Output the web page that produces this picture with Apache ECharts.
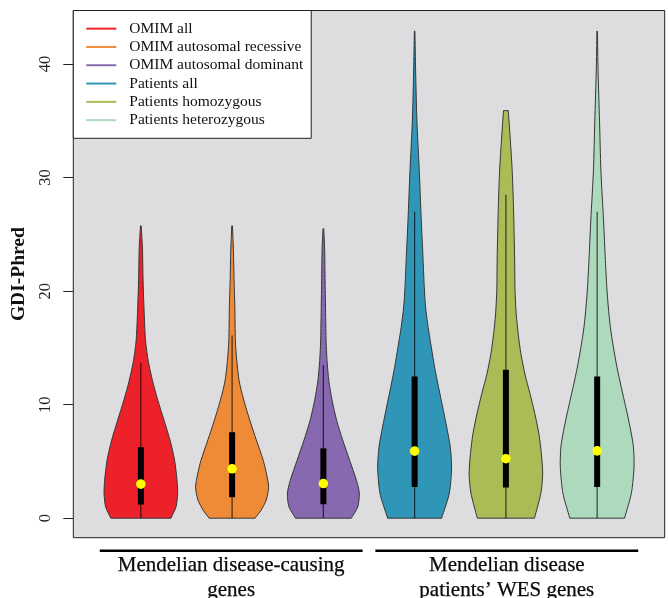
<!DOCTYPE html>
<html><head><meta charset="utf-8">
<script src="https://cdn.jsdelivr.net/npm/echarts@6/dist/echarts.min.js"></script>
<style>html,body{margin:0;padding:0;background:#fff}#c{width:668px;height:598px}</style>
</head><body><div id="c"></div>
<script>
// ---- data ----
const categories = ['OMIM all','OMIM autosomal recessive','OMIM autosomal dominant','Patients all','Patients homozygous','Patients heterozygous'];
const colors = ['#ED2129','#EF8A36','#8669AE','#2F96B8','#A9BC56','#ADD9BD'];
const xPositions = [1,2,3,4,5,6];
// violin outlines: [GDI-Phred value, half width (category units)]
const omimAll = [[0,0.33],[1,0.386],[2.2,0.403],[3.3,0.397],[5.1,0.37],[6.9,0.319],[8.6,0.255],[10.4,0.186],[12.1,0.128],[13.9,0.08],[15.6,0.052],[17.8,0.038],[20.8,0.025],[23.7,0.018],[25.75,0.004]];
const omimRecessive = [[0,0.252],[0.7,0.317],[1.6,0.374],[2.75,0.4],[3.9,0.377],[5.1,0.341],[6.9,0.265],[8.6,0.195],[10.4,0.128],[12.1,0.077],[13.9,0.051],[15.6,0.036],[18.6,0.03],[20.8,0.022],[23.7,0.014],[25.75,0.004]];
const omimDominant = [[0,0.306],[1,0.377],[2.2,0.394],[3.3,0.364],[5.1,0.288],[6.9,0.211],[8.6,0.146],[10.4,0.095],[12.1,0.06],[13.9,0.04],[15.6,0.03],[17.8,0.025],[20.8,0.019],[23.7,0.014],[25.5,0.004]];
const patientsAll = [[0,0.296],[2.2,0.38],[4.5,0.405],[6.3,0.39],[8,0.352],[9.8,0.307],[11.5,0.263],[13.3,0.219],[15.05,0.183],[16.8,0.148],[18.6,0.12],[20.3,0.106],[22.7,0.093],[26.2,0.073],[30.6,0.051],[35,0.025],[39.4,0.011],[42.9,0.003]];
const patientsHomo = [[0,0.313],[2.2,0.383],[3.9,0.403],[5.7,0.388],[7.4,0.362],[9.2,0.317],[11,0.263],[12.7,0.208],[14.5,0.164],[16.2,0.135],[18,0.113],[19.8,0.101],[20.9,0.098],[22.7,0.096],[24.7,0.091],[27.7,0.082],[30.6,0.069],[33.5,0.047],[35.9,0.026]];
const patientsHetero = [[0,0.3],[2.2,0.375],[4.5,0.404],[6.3,0.397],[8,0.361],[9.8,0.313],[11.5,0.265],[13.3,0.217],[15.05,0.178],[16.8,0.145],[18.6,0.122],[20.3,0.106],[22.7,0.09],[26.2,0.07],[30.6,0.041],[35,0.026],[39.4,0.01],[42.9,0.003]];
const whiskerLow = [0,0,0,0,0,0];
const q1 = [1.2,1.85,1.23,2.75,2.7,2.75];
const medians = [3.0,4.35,3.05,5.91,5.24,5.93];
const q3 = [6.25,7.57,6.15,12.48,13.07,12.48];
const whiskerHigh = [13.7,16.1,13.5,27.0,28.5,27.0];
const yTicks = [0,10,20,30,40];
const groupNames = ['Mendelian disease-causing\ngenes','Mendelian disease\npatients\u2019 WES genes'];
const groupSpans = [[0.55,3.43],[3.57,6.45]];

const profiles = [omimAll, omimRecessive, omimDominant, patientsAll, patientsHomo, patientsHetero];
const Y_MIN = -1.72, Y_MAX = 44.72;
const SERIF = '"Liberation Serif", "DejaVu Serif", serif';

function violinSeries(i){
  const prof = profiles[i];
  return {
    type:'custom', name:categories[i], coordinateSystem:'cartesian2d',
    itemStyle:{color:colors[i]}, z:3,
    data:[[xPositions[i], medians[i]]],
    encode:{x:0,y:1},
    renderItem:function(params, api){
      const xc = api.value(0);
      const pts = [];
      const left = prof.map(p => api.coord([xc - p[1], p[0]]));
      const right = prof.map(p => api.coord([xc + p[1], p[0]]));
      const n = left.length;
      pts.push(left[0]);
      for (let k=0;k<n;k++) pts.push(left[k]);
      pts.push(left[n-1]);
      pts.push(right[n-1]);
      for (let k=n-1;k>=0;k--) pts.push(right[k]);
      pts.push(right[0]);
      const wLo = api.coord([xc, whiskerLow[i]]);
      const wHi = api.coord([xc, whiskerHigh[i]]);
      const b1 = api.coord([xc, q1[i]]);
      const b3 = api.coord([xc, q3[i]]);
      const md = api.coord([xc, api.value(1)]);
      return {type:'group', children:[
        {type:'polygon', shape:{points:pts, smooth:0.25}, style:{fill:colors[i], stroke:'#363636', lineWidth:1}},
        {type:'line', shape:{x1:wLo[0], y1:wLo[1], x2:wHi[0], y2:wHi[1]}, style:{stroke:'rgba(0,0,0,0.7)', lineWidth:1.2}},
        {type:'rect', shape:{x:b1[0]-3, y:b3[1], width:6, height:b1[1]-b3[1]}, style:{fill:'#000'}},
        {type:'circle', shape:{cx:md[0], cy:md[1], r:4.8}, style:{fill:'#FFFF00'}}
      ]};
    }
  };
}

const series = categories.map((c,i) => violinSeries(i));
series.push({
  type:'custom', name:'groups', coordinateSystem:'cartesian2d', clip:false, silent:true,
  data:groupSpans.map((s,i) => [s[0], s[1], i]),
  encode:{x:[0,1]},
  renderItem:function(params, api){
    const a = api.coord([api.value(0), Y_MIN]);
    const b = api.coord([api.value(1), Y_MIN]);
    const idx = api.value(2);
    const ly = a[1] + 13;
    return {type:'group', children:[
      {type:'line', shape:{x1:a[0], y1:ly, x2:b[0], y2:ly}, style:{stroke:'#000', lineWidth:2.6}},
      {type:'text', style:{text:groupNames[idx], x:(a[0]+b[0])/2, y:ly+27.5, textAlign:'center', textVerticalAlign:'middle',
        font:'21px ' + SERIF, lineHeight:25, fill:'#0a0a0a', stroke:'#0a0a0a', lineWidth:0.25}}
    ]};
  }
});

const chart = echarts.init(document.getElementById('c'), null, {renderer:'canvas'});
chart.setOption({
  animation:false,
  backgroundColor:'#fff',
  grid:{left:73.3, right:3.3, top:10.5, bottom:60.3, show:true, backgroundColor:'#DDDDE0', borderColor:'#222', borderWidth:1},
  xAxis:{type:'value', min:0.26, max:6.74, show:false},
  yAxis:{type:'value', min:Y_MIN, max:Y_MAX,
    axisLine:{show:false}, splitLine:{show:false},
    axisTick:{show:true, length:10, customValues:yTicks, lineStyle:{color:'#222', width:1}},
    axisLabel:{customValues:yTicks, rotate:90, fontFamily:SERIF, fontSize:16.5, color:'#222', margin:19},
    name:'GDI-Phred', nameLocation:'middle', nameRotate:90, nameGap:38,
    nameTextStyle:{fontFamily:SERIF, fontWeight:'bold', fontSize:19.5, color:'#111'}
  },
  legend:{
    orient:'vertical', left:73.3, top:10.5, selectedMode:false,
    data:categories.map((n,i)=>({name:n, itemStyle:{color:colors[i]}})),
    icon:'rect', itemWidth:30, itemHeight:2, itemGap:0,
    padding:[9,8,9,13], backgroundColor:'#fff', borderColor:'#222', borderWidth:1,
    textStyle:{fontFamily:SERIF, fontSize:15.5, color:'#111', lineHeight:18.3, padding:[0,0,0,8]}
  },
  series:series
});
</script></body></html>
